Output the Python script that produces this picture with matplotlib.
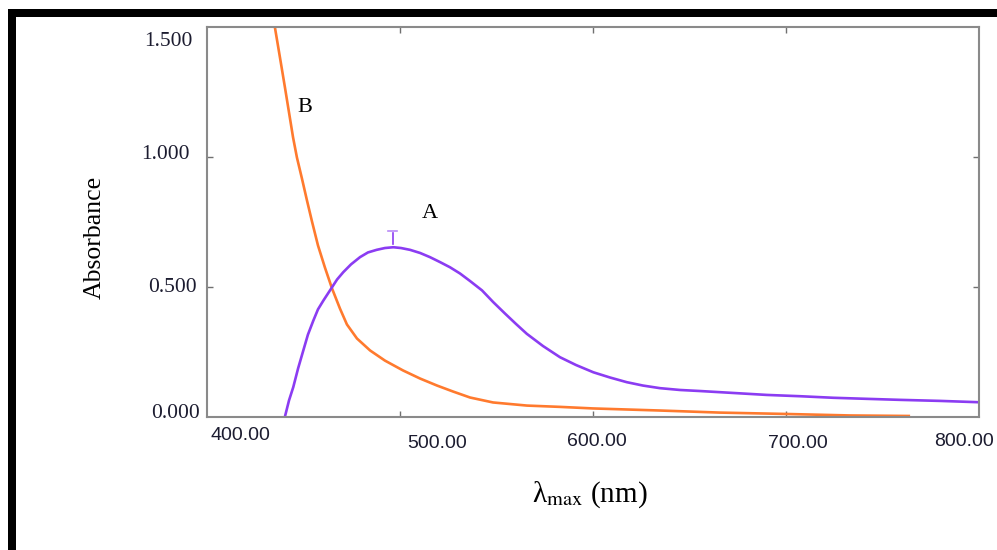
import matplotlib
matplotlib.use("Agg")
import matplotlib.pyplot as plt
from matplotlib.patches import Rectangle

# spectrum A (purple)
wl_a = [440.4, 442.5, 444.7, 447.2, 449.9, 452.3, 455.1, 457.5, 460.3, 464.6,
        467.4, 470.6, 474.6, 479.3, 483.4, 487.9, 492.2, 496.5, 500.5, 505.2,
        510.4, 515.5, 520.7, 525.9, 531.1, 536.3, 542.5, 548.3, 554.4, 560.1,
        565.7, 574.1, 582.9, 591.2, 600.2, 608.8, 617.5, 625.9, 634.7, 645.1,
        655.4, 676.2, 690.0, 707.3, 724.5, 741.5, 759.1, 779.8, 799.5]
abs_a = [0.000, 0.062, 0.113, 0.185, 0.254, 0.315, 0.369, 0.412, 0.446, 0.495,
         0.527, 0.555, 0.585, 0.613, 0.631, 0.641, 0.648, 0.651, 0.648, 0.641,
         0.629, 0.613, 0.594, 0.574, 0.550, 0.521, 0.485, 0.440, 0.396, 0.356,
         0.318, 0.271, 0.228, 0.198, 0.170, 0.150, 0.132, 0.119, 0.109, 0.102,
         0.098, 0.089, 0.083, 0.078, 0.072, 0.068, 0.064, 0.060, 0.055]

# spectrum B (orange)
wl_b = [435.2, 437.8, 440.4, 442.5, 444.6, 446.6, 449.2, 451.8, 454.4, 457.5,
        461.1, 464.8, 468.9, 472.5, 477.7, 484.5, 492.2, 501.6, 510.4, 519.2,
        527.5, 536.3, 548.2, 565.8, 582.9, 600.0, 634.7, 665.8, 698.5, 733.2,
        764.3]
abs_b = [1.496, 1.381, 1.265, 1.169, 1.073, 0.996, 0.915, 0.831, 0.750, 0.658,
         0.573, 0.492, 0.415, 0.354, 0.300, 0.254, 0.215, 0.177, 0.146, 0.119,
         0.096, 0.073, 0.054, 0.042, 0.037, 0.031, 0.023, 0.015, 0.010, 0.004,
         0.002]

x_ticks = [500, 600, 700]
y_ticks = [0.5, 1.0]
x_labels = ["400.00", "500.00", "600.00", "700.00", "800.00"]
y_labels = ["0.000", "0.500", "1.000", "1.500"]

# where the program put its labels (pixels), they are not under the ticks
x_label_px = [(240, 435), (437, 443), (597, 441), (798, 443), (964, 441)]
y_label_px = [(200, 413), (197, 288), (190, 155), (193, 42)]

W, H = 997, 550
plt.rcParams["mathtext.fontset"] = "stix"
fig = plt.figure(figsize=(W / 100, H / 100), dpi=100)
ax = fig.add_axes([207 / W, 1 - 416.5 / H, 772 / W, 390 / H])

purple = "#8b3cf2"
orange = "#ff7a2e"
ax.plot(wl_b, abs_b, color=orange, lw=1.9, solid_capstyle="butt")
ax.plot(wl_a, abs_a, color=purple, lw=1.9)

# peak marker on A
ax.plot([496.2, 496.2], [0.665, 0.705], color=purple, lw=1.2)
ax.plot([494.0, 498.4], [0.712, 0.712], color=purple, lw=1.2, alpha=0.6)

ax.text(450.8, 1.188, "B", family="Liberation Serif", fontsize=16,
        ha="center", va="center")
ax.text(515.5, 0.78, "A", family="Liberation Serif", fontsize=16,
        ha="center", va="center")

ax.set_xlim(400, 800)
ax.set_ylim(0, 1.5)
ax.set_xticks(x_ticks)
ax.set_yticks(y_ticks)
ax.tick_params(direction="in", length=4, width=1, color="#707070",
               top=True, right=True, labelbottom=False, labelleft=False)
for s in ax.spines.values():
    s.set_color("#8a8a8a")
    s.set_linewidth(1.5)

for lab, (px, py) in zip(x_labels, x_label_px):
    fig.text(px / W, 1 - py / H, lab, family="Liberation Sans", fontsize=14,
             ha="center", va="center", color="#1c1c30")
for lab, (px, py) in zip(y_labels, y_label_px):
    fig.text(px / W, 1 - py / H, lab, family="Liberation Serif", fontsize=15.5,
             ha="right", va="center", color="#1c1c30")

fig.text(95 / W, 1 - 237 / H, "Absorbance", family="Liberation Serif",
         fontsize=18.5, rotation=90, ha="center", va="center")
fig.text(590 / W, 1 - 495 / H, r"λ$_{\mathrm{max}}$ (nm)",
         family="Liberation Serif", fontsize=21, ha="center", va="center")

# thick black frame round the picture
fig.patches.append(Rectangle((12 / W, 1 - 552 / H), 1.1, 539 / H,
                             transform=fig.transFigure, fill=False,
                             edgecolor="black", lw=8 * 0.72, clip_on=False))

fig.savefig("out.png", dpi=100)
